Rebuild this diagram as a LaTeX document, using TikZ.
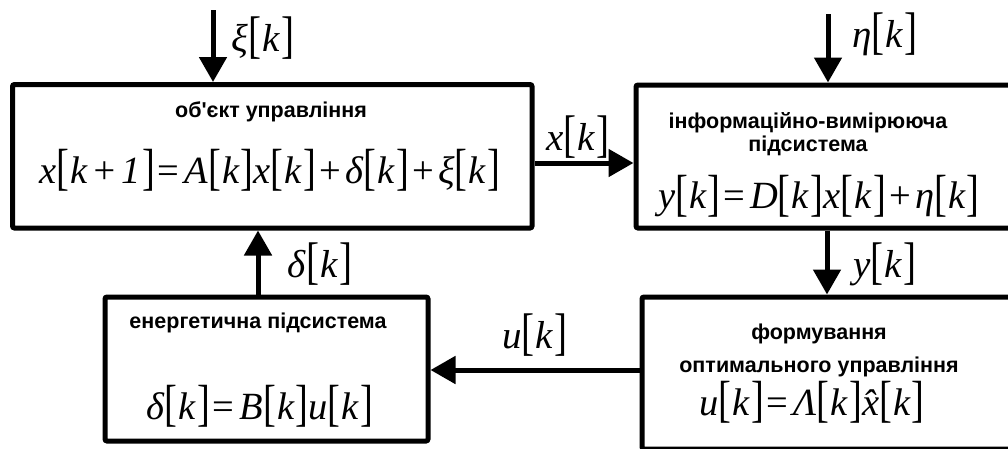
\documentclass[tikz,border=0pt]{standalone}
\usepackage{graphicx}
\usepackage{fontspec}
\setmainfont{Liberation Serif}
\newfontfamily\hdr{Liberation Sans}[Ligatures=TeXOff]
\usetikzlibrary{arrows.meta}
\newcommand\lbk{\raisebox{-0.03em}{\scalebox{1}[1.32]{[}}}
\newcommand\rbk{\raisebox{-0.03em}{\scalebox{1}[1.32]{]}}}
\newcommand\bk[1]{\lbk\hspace{0.03em}{\itshape #1}\hspace{0.04em}\rbk}
\newcommand\iv[1]{{\itshape #1}}
\newcommand\pl{\hspace{0.1em}+\hspace{0.1em}}
\newcommand\eqs{\hspace{0.06em}=\hspace{0.14em}}
\tikzset{
  blk/.style={draw, line width=5pt, rectangle, rounded corners=2pt, inner sep=0pt},
  arr/.style={line width=5pt, -{Triangle[length=25pt,width=27pt]}},
  ttl/.style={font=\hdr\bfseries\fontsize{21.5}{23}\selectfont, align=center, inner sep=0pt},
  eqn/.style={font=\fontsize{38.5}{44}\selectfont, inner sep=0pt},
  lbl/.style={font=\fontsize{39}{44}\selectfont, inner sep=0pt}
}
\begin{document}
\begin{tikzpicture}[x=1pt,y=-1pt]
\useasboundingbox (0,0) rectangle (1008,448);
\clip (0,0) rectangle (1008,448);
% blocks
\node[blk, minimum width=519.5pt, minimum height=143.5pt] (obj) at (272.25,156.25) {};
\node[blk, minimum width=389pt, minimum height=143pt] (info) at (830.5,156.5) {};
\node[blk, minimum width=323pt, minimum height=144pt] (energy) at (266.5,369) {};
\node[blk, minimum width=383pt, minimum height=152pt] (form) at (833.5,373) {};
% texts
\node[ttl] (t1) at (271,112) {об\char"0027єкт управління};
\node[eqn] (e1) at (270,170) {\iv{x}\bk{k\pl 1}\eqs\iv{A}\bk{k}\iv{x}\bk{k}\pl\iv{δ}\bk{k}\pl\iv{ξ}\bk{k}};
\node[ttl] (t2) at (808,134) {інформаційно-вимірююча\\підсистема};
\node[eqn] (e2) at (819,196) {\iv{y}\bk{k}\eqs\iv{D}\bk{k}\iv{x}\bk{k}\pl\iv{η}\bk{k}};
\node[ttl] (t3) at (258,323) {енергетична підсистема};
\node[eqn] (e3) at (260,406) {\iv{δ}\bk{k}\eqs\iv{B}\bk{k}\iv{u}\bk{k}};
\node[ttl, font=\hdr\bfseries\fontsize{21.5}{33}\selectfont] (t4) at (819,350) {формування\\оптимального управління};
\node[eqn] (e4) at (812,402) {\iv{u}\bk{k}\eqs\iv{Λ}\bk{k}\iv{\^x}\bk{k}};
% signal coordinates
\coordinate (xi) at (213,10);
\coordinate (eta) at (828,14);
\coordinate (xrow) at (0,163);
\coordinate (ycol) at (827,0);
\coordinate (dcol) at (258,0);
\coordinate (urow) at (0,370);
% connectors
\draw[arr] (xi) -- (xi |- obj.north);
\draw[arr] (eta) -- (eta |- info.north);
\draw[arr] (obj.east |- xrow) -- (info.west |- xrow);
\draw[arr] (info.south -| ycol) -- (form.north -| ycol);
\draw[arr] (energy.north -| dcol) -- (obj.south -| dcol);
\draw[arr] (form.west |- urow) -- (energy.east |- urow);
% labels
\node[lbl] (lxi) at (263,38) {\iv{ξ}\bk{k}};
\node[lbl] (leta) at (885,34) {\iv{η}\bk{k}};
\node[lbl] (lx) at (578,137) {\iv{x}\bk{k}};
\node[lbl] (ld) at (320,264) {\iv{δ}\bk{k}};
\node[lbl] (ly) at (885,264) {\iv{y}\bk{k}};
\node[lbl] (lu) at (535,335) {\iv{u}\bk{k}};
\end{tikzpicture}
\end{document}
